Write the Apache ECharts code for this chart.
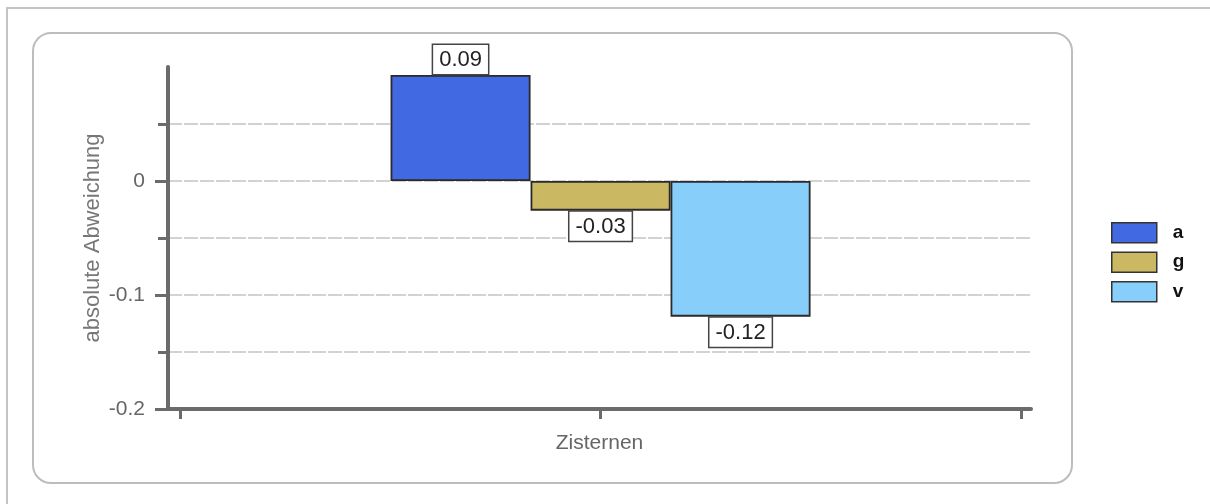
<!DOCTYPE html>
<html>
<head>
<meta charset="utf-8">
<script src="https://cdn.jsdelivr.net/npm/echarts@6/dist/echarts.min.js"></script>
<style>
  html, body { margin: 0; padding: 0; background: #fff; }
  #main { width: 1210px; height: 504px; }
</style>
</head>
<body>
<div id="main"></div>
<script>
// Daten
var seriesNames = ['a', 'g', 'v'];
var values = [0.093, -0.026, -0.119];     // absolute Abweichung je Zisterne
var xPos = 1;                              // Kategorie "Zisternen" in der Mitte
var yTicks = [-0.2, -0.15, -0.1, -0.05, 0, 0.05];
var yLabels = [-0.2, -0.1, 0];
var xTicks = [0, 1, 2];

var colors = ['#4169e1', '#cbb862', '#87cefa'];

var myChart = echarts.init(document.getElementById('main'));

var series = seriesNames.map(function (name, i) {
    var v = values[i];
    return {
        name: name,
        type: 'bar',
        barWidth: 140,
        barGap: '0%',
        data: [[xPos, v]],
        itemStyle: { color: colors[i], borderColor: '#2a2a2a', borderWidth: 1.8 },
        label: {
            show: true,
            position: v >= 0 ? 'top' : 'bottom',
            distance: 1,
            formatter: function (p) { return p.value[1].toFixed(2); },
            fontFamily: 'Liberation Sans, Arial',
            fontSize: 22,
            color: '#222',
            backgroundColor: '#fff',
            borderColor: '#444',
            borderWidth: 1.5,
            padding: [4, 6, 3, 6]
        }
    };
});

var axisColor = '#6b6b6b';

var option = {
    animation: false,
    textStyle: { fontFamily: 'Liberation Sans, Arial' },
    grid: { left: 168, right: 179, top: 67, bottom: 95 },
    legend: {
        orient: 'vertical',
        left: 1106,
        top: 217,
        itemWidth: 45,
        itemHeight: 20,
        itemGap: 8,
        icon: 'rect',
        itemStyle: { borderColor: '#333', borderWidth: 1.5 },
        textStyle: { fontSize: 19, fontWeight: 'bold', color: '#111', padding: [0, 0, 0, 11] },
        data: seriesNames
    },
    xAxis: {
        type: 'value',
        min: -0.029,
        max: 2.024,
        axisLine: { show: true, onZero: false, lineStyle: { color: axisColor, width: 4 } },
        axisTick: { show: true, length: 10, customValues: xTicks, lineStyle: { color: axisColor, width: 3 } },
        axisLabel: { show: false },
        splitLine: { show: false },
        name: 'Zisternen',
        nameLocation: 'middle',
        nameGap: 24,
        nameTextStyle: { fontSize: 21, color: '#666' }
    },
    yAxis: [{
        type: 'value',
        position: 'left',
        min: -0.2,
        max: 0.1,
        interval: 0.05,
        axisLine: { show: true, onZero: false, lineStyle: { color: axisColor, width: 4 } },
        axisTick: { show: true, length: 10, customValues: yTicks, lineStyle: { color: axisColor, width: 3 } },
        axisLabel: {
            customValues: yLabels,
            margin: 23,
            fontSize: 21,
            color: '#666',
            formatter: function (v) { return v === 0 ? '0' : String(v); }
        },
        splitLine: {
            show: true,
            showMinLine: false,
            showMaxLine: true,
            lineStyle: { type: [14, 2], color: '#d2d2d2', width: 2 }
        },
        name: 'absolute Abweichung',
        nameLocation: 'middle',
        nameGap: 64,
        nameMoveOverlap: false,
        nameTextStyle: { fontSize: 22, color: '#777' }
    }, {
        // laengere Hauptticks
        type: 'value',
        position: 'left',
        offset: 0,
        min: -0.2,
        max: 0.1,
        interval: 0.05,
        axisLine: { show: false, onZero: false },
        axisTick: { show: true, length: 13, customValues: yLabels, lineStyle: { color: axisColor, width: 3 } },
        axisLabel: { show: false },
        splitLine: { show: false }
    }],
    graphic: [
        { type: 'polyline', z: -10, shape: { points: [[7, 504], [7, 8], [1210, 8]] },
          style: { stroke: '#c4c4c4', lineWidth: 2, fill: null } },
        { type: 'rect', z: -10, shape: { x: 33, y: 33, width: 1039, height: 450, r: 18 },
          style: { stroke: '#bdbdbd', lineWidth: 2, fill: '#fff' } }
    ],
    series: series
};
myChart.setOption(option);
</script>
</body>
</html>
